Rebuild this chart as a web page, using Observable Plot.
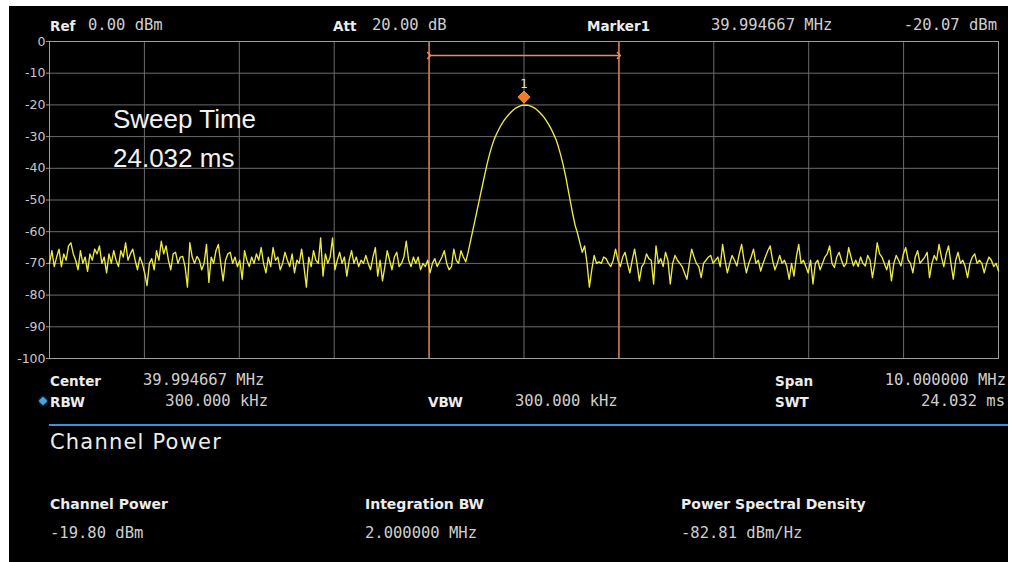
<!DOCTYPE html>
<html>
<head>
<meta charset="utf-8">
<script src="https://cdn.jsdelivr.net/npm/d3@7"></script>
<script src="https://cdn.jsdelivr.net/npm/@observablehq/plot@0.6"></script>
<style>
  html, body { margin: 0; padding: 0; }
  body { background: #fff; width: 1010px; height: 562px; position: relative; overflow: hidden; }
  .lbl { position: absolute; line-height: 1; white-space: pre; }
  .b { font-family: "DejaVu Sans", sans-serif; font-weight: bold; font-size: 13.5px; color: #ececec; }
  .v { font-family: "DejaVu Sans Mono", monospace; font-size: 15.5px; color: #cfcfcf; }
</style>
</head>
<body>
<div style="position:absolute;left:9px;top:6px;width:999px;height:556px;background:#000"></div>
<div id="chart" style="position:absolute;left:9px;top:6px"></div>
<script>
// ---- instrument settings ----
const centerMHz = 39.994667;
const spanMHz = 10;
const integrationBW = 2;
const refLevel = 0;
const yTicks = [0, -10, -20, -30, -40, -50, -60, -70, -80, -90, -100];
const markerFreq = 39.994667;
const markerLevel = -20.07;

// ---- trace values (dBm), 401 points across the span ----
const traceLeft = [
  -70, -66, -71, -68, -65.5, -71, -67, -69, -64.5, -63.5,
  -67, -69, -72, -66, -70, -68, -72.5, -67, -69, -65.5,
  -67, -64.5, -70, -68, -73, -67, -70, -66, -69, -71,
  -66, -68, -63.5, -69, -67, -65.5, -69, -72, -68, -70,
  -73, -77, -70, -68.5, -72, -66, -69, -63, -67, -64.5,
  -69, -72, -67, -66.5, -70, -68, -67.8, -71, -77.5, -63.5,
  -68, -70, -67.8, -69, -72, -70, -64, -76, -68, -70,
  -66, -64, -70, -75.5, -69, -67, -66.5, -70, -68, -71,
  -69, -75, -66, -69, -71, -68, -70, -67, -69, -65,
  -70, -73, -68, -71, -65, -69, -68, -72, -70, -66.5,
  -69, -71, -67, -73, -69, -70, -65.5, -71, -77.5, -68,
  -71, -66, -69, -70, -62, -74, -67, -70, -68, -62,
  -72, -69, -66.5, -70, -68, -74, -69, -66, -70, -68,
  -71, -69, -70, -67.5, -70, -72, -68, -65, -74, -69,
  -75.5, -71, -66, -69, -72, -68, -66.5, -71, -70, -68,
  -63, -69, -71, -68, -70, -68, -72, -70, -71, -69,
  -73, -70, -68.5, -71, -69.5, -68, -66, -70, -72, -71,
  -65.5, -69, -70, -66
];
const tracePeak = [
  -68, -69.5, -66.5, -63, -59.5, -56, -52.5, -49, -45.5, -42,
  -38.6, -35.6, -33, -30.8, -29.1, -27.6, -26.2, -25, -24, -23.1,
  -22.3, -21.6, -21, -20.6, -20.3, -20.1, -20.07, -20.1, -20.3, -20.6,
  -21, -21.6, -22.3, -23.1, -24, -25.1, -26.3, -27.7, -29.3, -31,
  -33.3, -36, -39, -42.5, -46.5, -50.5, -54.5, -58, -60.5, -63.5,
  -66.5, -64.5, -70
];
const traceRight = [
  -77.5, -72,
  -67.5, -70, -69.5, -70, -68, -68.5, -70, -71, -69, -65.5,
  -69, -71, -68, -66.5, -70, -73, -69, -65.5, -70, -75.5,
  -71, -70, -67, -68.5, -69, -76.5, -64.5, -70, -68.5, -71,
  -66.5, -69, -76.5, -70, -67.5, -69, -70, -71, -73, -75,
  -70, -65.5, -68, -70, -71, -74.5, -70, -69, -68, -67.5,
  -70, -69, -68, -71, -64, -69, -73, -70, -67.5, -69,
  -70.8, -67, -64, -69, -73, -70, -68, -65.5, -70, -69,
  -72.4, -70, -68, -66, -64.5, -69, -72, -70, -67.5, -70,
  -69, -71, -75, -70, -74, -68, -64, -70, -69, -71,
  -73, -69, -76.5, -70, -69, -72, -70, -68, -67, -64.5,
  -70, -71.3, -68, -66.5, -69, -71, -70, -65, -68, -70.8,
  -69, -71, -68, -70, -70.8, -67.5, -69, -74.5, -70, -63.5,
  -67, -68, -70, -72, -69, -75.5, -70, -67.5, -69, -70.8,
  -67, -65, -69, -70, -73, -68, -66, -70, -69, -68,
  -66.5, -74.5, -70, -67.5, -69, -64, -68, -71, -67, -64.5,
  -70, -75, -69, -66.5, -70, -69, -71, -74.5, -70, -68,
  -67, -70, -69, -70, -73, -70, -68, -69, -71, -70, -72.4
];

// ---- build table for the library ----
const levels = [...traceLeft, ...tracePeak, ...traceRight];
const fStart = centerMHz - spanMHz / 2;
const fStop = centerMHz + spanMHz / 2;
const step = spanMHz / (levels.length - 1);
const trace = levels.map((v, i) => ({f: fStart + i * step, dbm: v}));
const xGrid = d3.range(0, 11).map(k => fStart + k * spanMHz / 10);
const channelEdges = [centerMHz - integrationBW / 2, centerMHz + integrationBW / 2];
const marker = [{f: markerFreq, dbm: markerLevel}];

const chart = Plot.plot({
  width: 999,
  height: 360,
  marginTop: 35,
  marginLeft: 40,
  marginRight: 10,
  marginBottom: 8,
  style: {background: "transparent", color: "#c8c8c8", fontFamily: "DejaVu Sans, sans-serif", fontSize: "12.5px"},
  x: {domain: [fStart, fStop], axis: null},
  y: {domain: [-100, refLevel], axis: null},
  marks: [
    Plot.gridX(xGrid, {stroke: "#6c6c6c", strokeOpacity: 1}),
    Plot.gridY(yTicks, {stroke: "#6c6c6c", strokeOpacity: 1}),
    Plot.frame({stroke: "#9c9c9c"}),
    Plot.axisY(yTicks, {label: null, tickSize: 3, tickPadding: 1, tickFormat: d => String(d), stroke: "#9c9c9c", fill: "#c8c8c8"}),
    Plot.ruleX(channelEdges, {stroke: "#d8744c", strokeWidth: 1.5}),
    Plot.link([{a: channelEdges[0], b: channelEdges[1]}], {
      x1: "a", x2: "b", y1: () => refLevel, y2: () => refLevel, dy: 14,
      stroke: "#ee8a5c", strokeWidth: 1.5, markerStart: "arrow", markerEnd: "arrow"
    }),
    Plot.line(trace, {x: "f", y: "dbm", stroke: "#ecec40", strokeWidth: 1.35}),
    Plot.dot(marker, {x: "f", y: "dbm", symbol: "diamond2", r: 5.5, fill: "#f47a2a", stroke: "#f8a060", strokeWidth: 0.8, dy: -8}),
    Plot.text(marker, {x: "f", y: "dbm", text: () => "1", dy: -21, fill: "#e0e0e0", fontSize: 12})
  ]
});
document.getElementById("chart").appendChild(chart);

// ---- screen texts ----
function label(text, x, baseline, cls, opts = {}) {
  const d = document.createElement("div");
  d.className = "lbl " + cls;
  d.textContent = text;
  const fs = opts.fs || (cls === "b" ? 13.5 : 15.5);
  if (opts.fs) d.style.fontSize = opts.fs + "px";
  if (opts.family) d.style.fontFamily = opts.family;
  if (opts.color) d.style.color = opts.color;
  if (opts.ls) d.style.letterSpacing = opts.ls + "px";
  if (opts.weight) d.style.fontWeight = opts.weight;
  d.style.top = (baseline - 0.846 * fs) + "px";
  if (opts.right) d.style.right = (1010 - x) + "px"; else d.style.left = x + "px";
  document.body.appendChild(d);
}
// header
label("Ref", 50, 31.5, "b");
label("0.00 dBm", 88, 31.5, "v");
label("Att", 333, 31.5, "b");
label("20.00 dB", 372, 31.5, "v");
label("Marker1", 587, 31.5, "b");
label("39.994667 MHz", 711, 31.5, "v");
label("-20.07 dBm", 997, 31.5, "v", {right: true});
// sweep annotation
label("Sweep Time", 113, 128, "v", {fs: 26, family: "Liberation Sans, Arial, sans-serif", color: "#f2f2f2"});
label("24.032 ms", 113, 166.5, "v", {fs: 26, family: "Liberation Sans, Arial, sans-serif", color: "#f2f2f2"});
// settings rows
label("Center", 50, 386.5, "b");
label("39.994667 MHz", 143, 386.5, "v");
label("Span", 775, 386.5, "b");
label("10.000000 MHz", 1006, 386.5, "v", {right: true});
label("RBW", 50, 407.5, "b");
label("300.000 kHz", 268, 407.5, "v", {right: true});
label("VBW", 428, 407.5, "b");
label("300.000 kHz", 515, 407.5, "v");
label("SWT", 775, 407.5, "b");
label("24.032 ms", 1005, 407.5, "v", {right: true});
// blue diamond next to RBW
const dia = document.createElement("div");
dia.style.cssText = "position:absolute;left:40px;top:398px;width:6px;height:6px;background:#4aa3e6;transform:rotate(45deg);box-shadow:0 0 3px #4aa3e6";
document.body.appendChild(dia);
// separator
const sep = document.createElement("div");
sep.style.cssText = "position:absolute;left:49px;top:424px;width:959px;height:2px;background:#3d8fe0";
document.body.appendChild(sep);
// measurement panel
label("Channel Power", 50, 450, "v", {fs: 21, family: "DejaVu Sans, sans-serif", color: "#ededed", ls: 1.2});
label("Channel Power", 50, 508.5, "b", {fs: 14});
label("-19.80 dBm", 50, 539.5, "v");
label("Integration BW", 365, 508.5, "b", {fs: 14});
label("2.000000 MHz", 365, 539.5, "v");
label("Power Spectral Density", 681, 508.5, "b", {fs: 14});
label("-82.81 dBm/Hz", 681, 539.5, "v");
</script>
</body>
</html>
